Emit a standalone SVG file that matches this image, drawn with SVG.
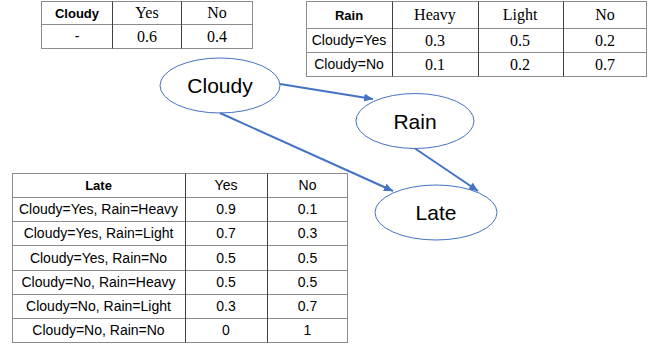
<svg xmlns="http://www.w3.org/2000/svg" width="654" height="348" viewBox="0 0 654 348">
<style>
.bg{fill:#ffffff}
.h{stroke:#8c8c8c;stroke-width:1;fill:none}
.v{stroke:#404040;stroke-width:1;fill:none}
.o{stroke:#8c8c8c;stroke-width:1;fill:none}
.sans{font-family:"Liberation Sans",Arial,sans-serif;font-size:14px;fill:#000;text-anchor:middle}
.bold{font-family:"Liberation Sans",Arial,sans-serif;font-size:13px;font-weight:bold;fill:#000;text-anchor:middle}
.serif{font-family:"Liberation Serif","Times New Roman",serif;font-size:16px;fill:#000;text-anchor:middle}
.node{fill:#ffffff;stroke:#4472C4;stroke-width:1}
.nlabel{font-family:"Liberation Sans",Arial,sans-serif;font-size:21px;fill:#000;text-anchor:middle}
.edge{stroke:#4472C4;stroke-width:2;fill:none}
</style>
<defs>
<marker id="arr" markerUnits="userSpaceOnUse" markerWidth="10" markerHeight="8" refX="9" refY="4" orient="auto">
<path d="M0,0 L9,4 L0,8 Z" fill="#4472C4"/>
</marker>
</defs>
<rect class="bg" x="0" y="0" width="654" height="348"/>

<g id="table-cloudy">
<rect class="o" x="41.5" y="1.5" width="211" height="47"/>
<line class="h" x1="41.5" y1="24.5" x2="252.5" y2="24.5"/>
<line class="v" x1="112.5" y1="1.5" x2="112.5" y2="48.5"/>
<line class="v" x1="181.5" y1="1.5" x2="181.5" y2="48.5"/>
<text class="bold" x="77" y="17.5">Cloudy</text>
<text class="serif" x="147" y="18">Yes</text>
<text class="serif" x="217" y="18">No</text>
<text class="sans" x="77" y="41">-</text>
<text class="serif" x="147" y="42">0.6</text>
<text class="serif" x="217" y="42">0.4</text>
</g>

<g id="table-rain">
<rect class="o" x="306.5" y="1.5" width="340" height="75"/>
<line class="h" x1="306.5" y1="28.5" x2="646.5" y2="28.5"/>
<line class="h" x1="306.5" y1="52.5" x2="646.5" y2="52.5"/>
<line class="v" x1="392.5" y1="1.5" x2="392.5" y2="76.5"/>
<line class="v" x1="478.5" y1="1.5" x2="478.5" y2="76.5"/>
<line class="v" x1="563.5" y1="1.5" x2="563.5" y2="76.5"/>
<text class="bold" x="349" y="19.5">Rain</text>
<text class="serif" x="435" y="20">Heavy</text>
<text class="serif" x="520" y="20">Light</text>
<text class="serif" x="605" y="20">No</text>
<text class="sans" x="349" y="45">Cloudy=Yes</text>
<text class="serif" x="435" y="46">0.3</text>
<text class="serif" x="520" y="46">0.5</text>
<text class="serif" x="605" y="46">0.2</text>
<text class="sans" x="349" y="69">Cloudy=No</text>
<text class="serif" x="435" y="70">0.1</text>
<text class="serif" x="520" y="70">0.2</text>
<text class="serif" x="605" y="70">0.7</text>
</g>

<g id="table-late">
<rect class="o" x="12.5" y="173.5" width="335" height="169"/>
<line class="h" x1="12.5" y1="197.5" x2="347.5" y2="197.5"/>
<line class="h" x1="12.5" y1="221.5" x2="347.5" y2="221.5"/>
<line class="h" x1="12.5" y1="245.5" x2="347.5" y2="245.5"/>
<line class="h" x1="12.5" y1="270.5" x2="347.5" y2="270.5"/>
<line class="h" x1="12.5" y1="294.5" x2="347.5" y2="294.5"/>
<line class="h" x1="12.5" y1="318.5" x2="347.5" y2="318.5"/>
<line class="v" x1="185.5" y1="173.5" x2="185.5" y2="342.5"/>
<line class="v" x1="267.5" y1="173.5" x2="267.5" y2="342.5"/>
<text class="bold" x="98.5" y="190">Late</text>
<text class="sans" x="226" y="190">Yes</text>
<text class="sans" x="307.5" y="190">No</text>
<text class="sans" x="98.5" y="214">Cloudy=Yes, Rain=Heavy</text>
<text class="sans" x="226" y="214">0.9</text>
<text class="sans" x="307.5" y="214">0.1</text>
<text class="sans" x="98.5" y="238">Cloudy=Yes, Rain=Light</text>
<text class="sans" x="226" y="238">0.7</text>
<text class="sans" x="307.5" y="238">0.3</text>
<text class="sans" x="98.5" y="263">Cloudy=Yes, Rain=No</text>
<text class="sans" x="226" y="263">0.5</text>
<text class="sans" x="307.5" y="263">0.5</text>
<text class="sans" x="98.5" y="287">Cloudy=No, Rain=Heavy</text>
<text class="sans" x="226" y="287">0.5</text>
<text class="sans" x="307.5" y="287">0.5</text>
<text class="sans" x="98.5" y="311">Cloudy=No, Rain=Light</text>
<text class="sans" x="226" y="311">0.3</text>
<text class="sans" x="307.5" y="311">0.7</text>
<text class="sans" x="98.5" y="335">Cloudy=No, Rain=No</text>
<text class="sans" x="226" y="335">0</text>
<text class="sans" x="307.5" y="335">1</text>
</g>

<g id="node-cloudy">
<ellipse class="node" cx="220" cy="85.5" rx="60" ry="27.5"/>
<text class="nlabel" x="220" y="93">Cloudy</text>
</g>
<g id="node-rain">
<ellipse class="node" cx="415" cy="121" rx="59" ry="27.5"/>
<text class="nlabel" x="415" y="128.5">Rain</text>
</g>
<g id="node-late">
<ellipse class="node" cx="436" cy="212.5" rx="61" ry="27.5"/>
<text class="nlabel" x="436" y="220">Late</text>
</g>

<g id="connectors">
<line class="edge" x1="280" y1="84" x2="373" y2="99" marker-end="url(#arr)"/>
<line class="edge" x1="415" y1="148.5" x2="478" y2="191" marker-end="url(#arr)"/>
<line class="edge" x1="220" y1="113" x2="393" y2="191" marker-end="url(#arr)"/>
</g>
</svg>
